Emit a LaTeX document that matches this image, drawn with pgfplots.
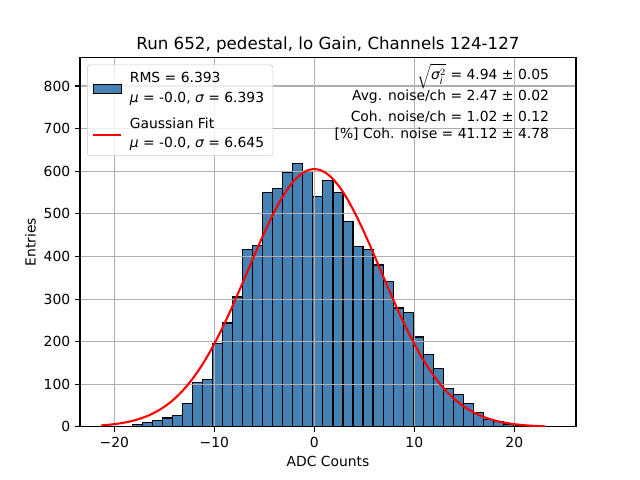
\documentclass[border=0pt]{standalone}
\usepackage{pgfplots}
\pgfplotsset{compat=1.18}
\usepackage{amsmath}
\usepackage{fontspec}
\setmainfont{DejaVu Sans}
\definecolor{steel}{HTML}{4682B4}
\definecolor{gridgray}{HTML}{B0B0B0}
\definecolor{legborder}{HTML}{CCCCCC}
\begin{document}
\begin{tikzpicture}
\path (-57.6pt,-38.016pt) rectangle (403.2pt,307.392pt);
\begin{axis}[
  at={(0,0)}, anchor=south west,
  scale only axis, width=357.12pt, height=265.92pt,
  set layers,
  xmin=-23.43, xmax=26.17, ymin=0, ymax=866.6,
  xtick={-20,-10,0,10,20}, xticklabels={−20,−10,0,10,20},
  ytick={0,100,200,300,400,500,600,700,800},
  /pgf/number format/assume math mode=true,
  grid=major,
  major grid style={draw=gridgray, line width=0.8pt},
  axis line style={line width=0.8pt},
  tick align=outside, tick pos=left,
  major tick length=3.5pt,
  tick style={black, line width=0.8pt},
  xticklabel style={font=\fontsize{10}{12}\selectfont},
  yticklabel style={font=\fontsize{10}{12}\selectfont},
  every axis title shift=0pt,
  title={Run 652, pedestal, lo Gain, Channels 124-127},
  title style={font=\fontsize{12}{14}\selectfont, at={(axis description cs:0.5,1.0225)}, anchor=base},
  xlabel={ADC Counts},
  xlabel style={font=\fontsize{10}{12}\selectfont, at={(axis description cs:0.5,-0.1068)}, anchor=base},
  ylabel={Entries},
  ylabel style={font=\fontsize{10}{12}\selectfont, at={(axis description cs:-0.0893,0.5)}, anchor=base},
  legend style={at={(axis description cs:0,1)}, anchor=north west, xshift=5pt, yshift=-5pt,
    draw=legborder, rounded corners=2pt, fill=white, fill opacity=0.8, text opacity=1,
    font=\fontsize{10}{12.5}\selectfont, row sep=0pt, column sep=0pt,
    inner xsep=4.3pt, inner ysep=2pt,
    cells={anchor=base west, inner sep=0pt}},
]
\addplot[ybar interval, fill=steel, draw=black, line width=0.8pt, on layer=axis background,
  legend image code/.code={\path[draw=none, fill=none] (0pt,0pt) -- (24.4pt,0pt);
    \draw[overlay, sharp corners, fill=steel, draw=black, line width=0.8pt, fill opacity=1] (0pt,-7.8pt) rectangle (20.2pt,-1.1pt);}]
coordinates {
(-21.180,1) (-20.178,1) (-19.176,2) (-18.174,5) (-17.172,11) (-16.170,16) (-15.168,21) (-14.166,26)
(-13.164,54) (-12.162,105) (-11.160,112) (-10.158,195) (-9.156,244) (-8.154,305) (-7.152,417)
(-6.150,426) (-5.148,551) (-4.146,560) (-3.144,597) (-2.142,619) (-1.140,600) (-0.138,541)
(0.864,579) (1.866,551) (2.868,483) (3.870,424) (4.872,417) (5.874,380) (6.876,341) (7.878,279)
(8.880,269) (9.882,211) (10.884,169) (11.886,138) (12.888,91) (13.890,77) (14.892,54) (15.894,33)
(16.896,17) (17.898,12) (18.900,7) (19.902,3) (20.904,1) (21.906,1) (22.908,1) (23.910,1)
};
\addlegendentry{\strut RMS = 6.393}
\addlegendimage{empty legend}
\addlegendentry{\strut{\itshape μ} = -0.0, {\itshape σ} = 6.393\hspace{1pt}}
\addplot[red, line width=1.5pt, smooth,
  legend image code/.code={\path[draw=none, fill=none] (0pt,0pt) -- (24.4pt,0pt);
    \draw[overlay, sharp corners, red, line width=1.5pt] (0pt,-5pt) -- (20.2pt,-5pt);}]
coordinates {
(-21.3,3.6) (-21,4.1) (-20.5,5.2) (-20,6.5) (-19.5,8.2) (-19,10.1) (-18.5,12.5) (-18,15.4) (-17.5,18.9)
(-17,22.9) (-16.5,27.7) (-16,33.3) (-15.5,39.8) (-15,47.3) (-14.5,55.9) (-14,65.7) (-13.5,76.8)
(-13,89.3) (-12.5,103.1) (-12,118.5) (-11.5,135.3) (-11,153.7) (-10.5,173.6) (-10,195.0) (-9.5,217.7)
(-9,241.8) (-8.5,267.0) (-8,293.1) (-7.5,320.0) (-7,347.4) (-6.5,374.9) (-6,402.5) (-5.5,429.5)
(-5,455.8) (-4.5,481.0) (-4,504.7) (-3.5,526.6) (-3,546.4) (-2.5,563.7) (-2,578.2) (-1.5,589.8)
(-1,598.2) (-0.5,603.3) (0,605) (0.5,603.3) (1,598.2) (1.5,589.8) (2,578.2) (2.5,563.7) (3,546.4)
(3.5,526.6) (4,504.7) (4.5,481.0) (5,455.8) (5.5,429.5) (6,402.5) (6.5,374.9) (7,347.4) (7.5,320.0)
(8,293.1) (8.5,267.0) (9,241.8) (9.5,217.7) (10,195.0) (10.5,173.6) (11,153.7) (11.5,135.3)
(12,118.5) (12.5,103.1) (13,89.3) (13.5,76.8) (14,65.7) (14.5,55.9) (15,47.3) (15.5,39.8) (16,33.3)
(16.5,27.7) (17,22.9) (17.5,18.9) (18,15.4) (18.5,12.5) (19,10.1) (19.5,8.2) (20,6.5) (20.5,5.2)
(21,4.1) (21.5,3.2) (22,2.5) (22.5,2.0) (23,1.5) (23.1,1.4)
};
\addlegendentry{\rule[-3.75pt]{0pt}{16.85pt}Gaussian Fit}
\addlegendimage{empty legend}
\addlegendentry{\rule[-6.4pt]{0pt}{15.15pt}{\itshape μ} = -0.0, {\itshape σ} = 6.645\hspace{1pt}}
\node[anchor=base east, font=\fontsize{10}{12}\selectfont, inner sep=0pt] at (rel axis cs:0.946,0.9394) {$\sqrt{\text{\itshape σ}_{\text{\itshape i}}^{2}}$ = 4.94 ± 0.05};
\node[anchor=base east, font=\fontsize{10}{12}\selectfont, inner sep=0pt] at (rel axis cs:0.946,0.8834) {Avg. noise/ch = 2.47 ± 0.02};
\node[anchor=base east, font=\fontsize{10}{12}\selectfont, inner sep=0pt] at (rel axis cs:0.946,0.8266) {Coh. noise/ch = 1.02 ± 0.12};
\node[anchor=base east, font=\fontsize{10}{12}\selectfont, inner sep=0pt] at (rel axis cs:0.946,0.7817) {[\%] Coh. noise = 41.12 ± 4.78};
\end{axis}
\end{tikzpicture}
\end{document}
